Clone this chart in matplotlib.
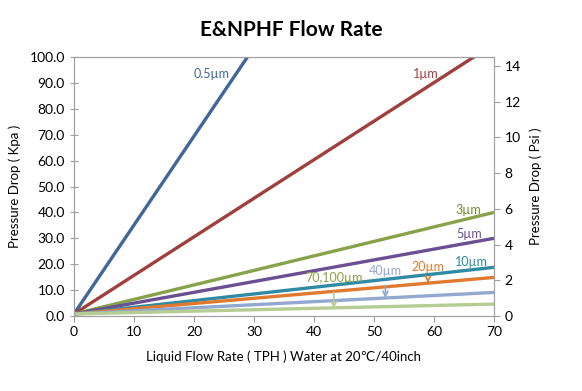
import matplotlib.pyplot as plt

plt.rcParams['font.family'] = ['Lato', 'DejaVu Sans']

# flow rate (TPH) and pressure drop (Kpa) per filter grade
flow = [0, 70]
grades = ['0.5µm', '1µm', '3µm', '5µm', '10µm', '20µm', '40µm', '70,100µm']
drop_05 = [0.8, 241.0]
drop_1 = [0.8, 105.0]
drop_3 = [0.8, 40.0]
drop_5 = [0.8, 30.0]
drop_10 = [0.8, 18.8]
drop_20 = [0.8, 14.9]
drop_40 = [0.8, 9.1]
drop_70 = [0.8, 4.6]
drops = [drop_05, drop_1, drop_3, drop_5, drop_10, drop_20, drop_40, drop_70]

colors = ['#3f679a', '#a03f3b', '#86a24a', '#6a4f92', '#2f8aa3', '#e07a2f', '#93a8d0', '#b5cc92']

fig = plt.figure(figsize=(5.82, 3.91), dpi=100)
ax = fig.add_axes([0.1271, 0.1918, 0.7217, 0.6624])

for d, c in zip(drops, colors):
    ax.plot(flow, d, color=c, lw=2.4, solid_capstyle='butt')

ax.set_xlim(0, 70)
ax.set_ylim(0, 100)
ax.set_xticks(range(0, 71, 10))
ax.set_yticks(range(0, 101, 10))
ax.set_yticklabels(['%.1f' % v for v in range(0, 101, 10)])
for s in ax.spines.values():
    s.set_color('#a0a0a0')
ax.tick_params(axis='both', colors='#a0a0a0', labelcolor='black', labelsize=10, length=4)
ax.tick_params(axis='y', direction='inout', length=6)
ax.set_xlabel('Liquid Flow Rate ( TPH ) Water at 20℃/40inch', fontsize=9.5, labelpad=9)
ax.set_ylabel('Pressure Drop ( Kpa )', fontsize=9.5, labelpad=6)

ax2 = ax.twinx()
ax2.set_ylim(0, 100 / 6.895)
ax2.set_yticks(range(0, 15, 2))
for s in ax2.spines.values():
    s.set_color('#a0a0a0')
ax2.tick_params(axis='y', colors='#a0a0a0', labelcolor='black', labelsize=10, length=4)
ax2.set_ylabel('Pressure Drop ( Psi )', fontsize=9.5, labelpad=6)

fig.suptitle('E&NPHF Flow Rate', fontsize=15, fontweight='bold', y=0.95)

# line labels
ax.text(23.0, 93.5, grades[0], color=colors[0], fontsize=9, ha='center', va='center')
ax.text(58.7, 93.5, grades[1], color=colors[1], fontsize=9, ha='center', va='center')
ax.text(65.7, 40.8, grades[2], color='#6f8a35', fontsize=9, ha='center', va='center')
ax.text(65.8, 31.8, grades[3], color=colors[3], fontsize=9, ha='center', va='center')
ax.text(66.2, 20.8, grades[4], color=colors[4], fontsize=9, ha='center', va='center')
ax.annotate(grades[5], xy=(59.0, 12.8), xytext=(59.0, 18.8), color=colors[5], fontsize=9,
            ha='center', va='center',
            arrowprops=dict(arrowstyle='->', color=colors[5], lw=1.2, shrinkA=4, shrinkB=0))
ax.annotate(grades[6], xy=(51.9, 7.0), xytext=(51.9, 17.3), color=colors[6], fontsize=9,
            ha='center', va='center',
            arrowprops=dict(arrowstyle='->', color=colors[6], lw=1.2, shrinkA=4, shrinkB=0))
ax.annotate(grades[7], xy=(43.3, 2.9), xytext=(43.3, 14.7), color='#8aa04a', fontsize=9,
            ha='center', va='center',
            arrowprops=dict(arrowstyle='->', color=colors[7], lw=1.2, shrinkA=4, shrinkB=0))

fig.savefig('out.png', dpi=100)
